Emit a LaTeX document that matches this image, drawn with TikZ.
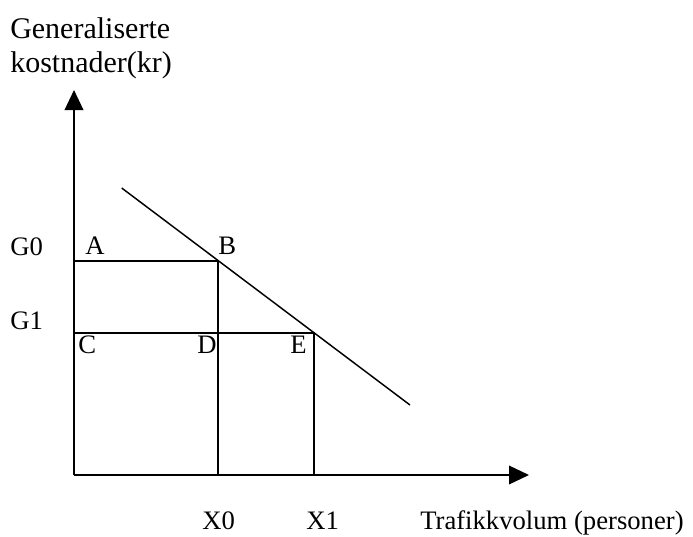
\documentclass[tikz,border=0pt]{standalone}
\usepackage{fontspec}
\setmainfont{Liberation Serif}
\usetikzlibrary{arrows.meta}
\tikzset{
  ln/.style={line width=1.1pt, line cap=butt},
  axis/.style={ln, -{Triangle[length=15pt,width=14pt]}},
  lbl/.style={anchor=base west, inner sep=0pt, font=\fontsize{20}{24}\selectfont},
  ttl/.style={anchor=base west, inner sep=0pt, align=left, font=\fontsize{22.5}{25.5}\selectfont}
}
\begin{document}
\begin{tikzpicture}[x=0.75pt,y=-0.75pt]
\useasboundingbox (0,0) rectangle (693,536);
% points
\coordinate (O) at (74,475);
\coordinate (Ytop) at (74,90);
\coordinate (Xend) at (529,475);
\coordinate (Apt) at (74,261);
\coordinate (Bpt) at (218,261);
\coordinate (Cpt) at (74,333);
\coordinate (Dpt) at (218,333);
\coordinate (Ept) at (314,333);
\coordinate (X0pt) at (218,475);
\coordinate (X1pt) at (314,475);
\coordinate (S) at (121.7,188);
\coordinate (T) at (410,405);
% axes
\draw[axis] (O) -- (Ytop);
\draw[axis] (O) -- (Xend);
% rectangles
\draw[ln] (Apt) -- (Bpt) -- (X0pt);
\draw[ln] (Cpt) -- (Ept) -- (X1pt);
% demand line
\draw[ln] (S) -- (T);
% labels
\node[ttl] (title) at (10,72) {Generaliserte\\kostnader(kr)};
\node[lbl] (g0) at (10,255) {G0};
\node[lbl] (g1) at (10,329) {G1};
\node[lbl] (a) at (85,254) {A};
\node[lbl] (b) at (218,254) {B};
\node[lbl] (c) at (78,353) {C};
\node[lbl] (d) at (197,353) {D};
\node[lbl] (e) at (290,353) {E};
\node[lbl] (x0) at (202,529) {X0};
\node[lbl] (x1) at (306,529) {X1};
\node[lbl] (tv) at (420,529) {Trafikkvolum (personer)};
\end{tikzpicture}
\end{document}
